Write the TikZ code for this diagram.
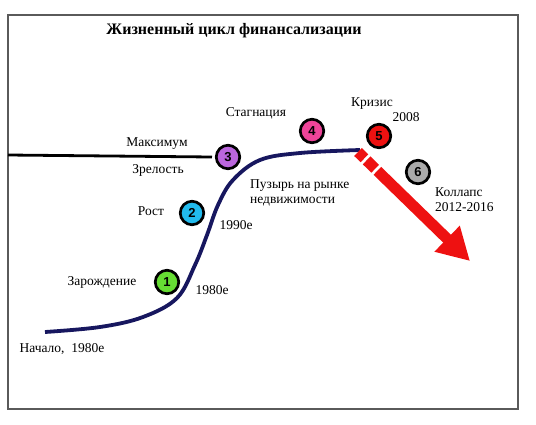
\documentclass[tikz,border=0pt]{standalone}
\usepackage{fontspec}
\setmainfont{Liberation Serif}
\newfontfamily\numfont{Liberation Sans}
\usetikzlibrary{arrows.meta, positioning}

\definecolor{framegray}{HTML}{5A5A5A}
\definecolor{curveblue}{HTML}{17175F}
\definecolor{crashred}{HTML}{EE1111}
\definecolor{stgreen}{HTML}{66DD33}
\definecolor{stcyan}{HTML}{22BBEE}
\definecolor{stpurple}{HTML}{BB66DD}
\definecolor{stpink}{HTML}{EE4499}
\definecolor{stred}{HTML}{EE1111}
\definecolor{stgray}{HTML}{AAAAAA}

\tikzset{
	stage/.style={circle, draw=black, line width=2.7pt, minimum size=23.5pt, inner sep=0pt, font=\numfont\bfseries\fontsize{13}{13}\selectfont},
	lbl/.style={inner sep=0pt, font=\fontsize{13.5}{15}\selectfont},
	lblleft/.style={lbl, anchor=west, align=left},
}

\begin{document}
\begin{tikzpicture}[x=1pt, y=-1pt]
			\useasboundingbox (0,0) rectangle (536,424);
			\draw[framegray, line width=1.6pt] (8,15) rectangle (518,409);
			
			\node[inner sep=0pt, font=\bfseries\fontsize{16}{18}\selectfont] (title) at (234,31) {Жизненный цикл финансализации};
			
			\coordinate (begin) at (45,332);
			\coordinate (plateau) at (360,150);
			\coordinate (maxline) at (8,155);
			\coordinate (crash) at (358,152);
			\coordinate (bottom) at (470,261);
			
			\draw[curveblue, line width=3.8pt] plot[smooth, tension=0.6] coordinates {(begin) (100,327) (143,317) (177,298) (195,265) (207,235) (218,205) (233,180) (260,160) (300,153) (plateau)};
			
			\node[stage, fill=stgreen] (s1) at (167,282) {1};
			\node[stage, fill=stcyan] (s2) at (192,213) {2};
			\node[stage, fill=stpurple] (s3) at (228,157) {3};
			\node[stage, fill=stpink] (s4) at (312,131) {4};
			\node[stage, fill=stred] (s5) at (379,136) {5};
			\node[stage, fill=stgray] (s6) at (418,172) {6};
			
			\draw[black, line width=2.8pt] (maxline) -- (s3.west -| 212,0);
			
			\draw[crashred, line width=11pt, dash pattern=on 9pt off 3pt on 12pt off 3pt on 400pt, -{Triangle[width=34pt, length=32pt]}] (crash) -- (bottom);
			
			\node[lbl] (maximum) at (157,144) {Максимум};
			\node[lbl] (maturity) at (158,170) {Зрелость};
			\node[lbl] (growth) at (151,211) {Рост};
			\node[lbl] (y1990) at (236,225) {1990е};
			\node[lbl] (y1980) at (212,290) {1980е};
			\node[lbl] (birth) at (102,282) {Зарождение};
			\node[lbl] (start) at (62,349) {Начало,\ \ 1980е};
			\node[lbl] (stagnation) at (256,113) {Стагнация};
			\node[lbl] (crisis) at (372,104) {Кризис};
			\node[lbl] (y2008) at (406,117) {2008};
			\node[lblleft] (bubble) at (250,193) {Пузырь на рынке\\недвижимости};
			\node[lblleft] (collapse) at (435,200) {Коллапс\\2012-2016};
\end{tikzpicture}
\end{document}
